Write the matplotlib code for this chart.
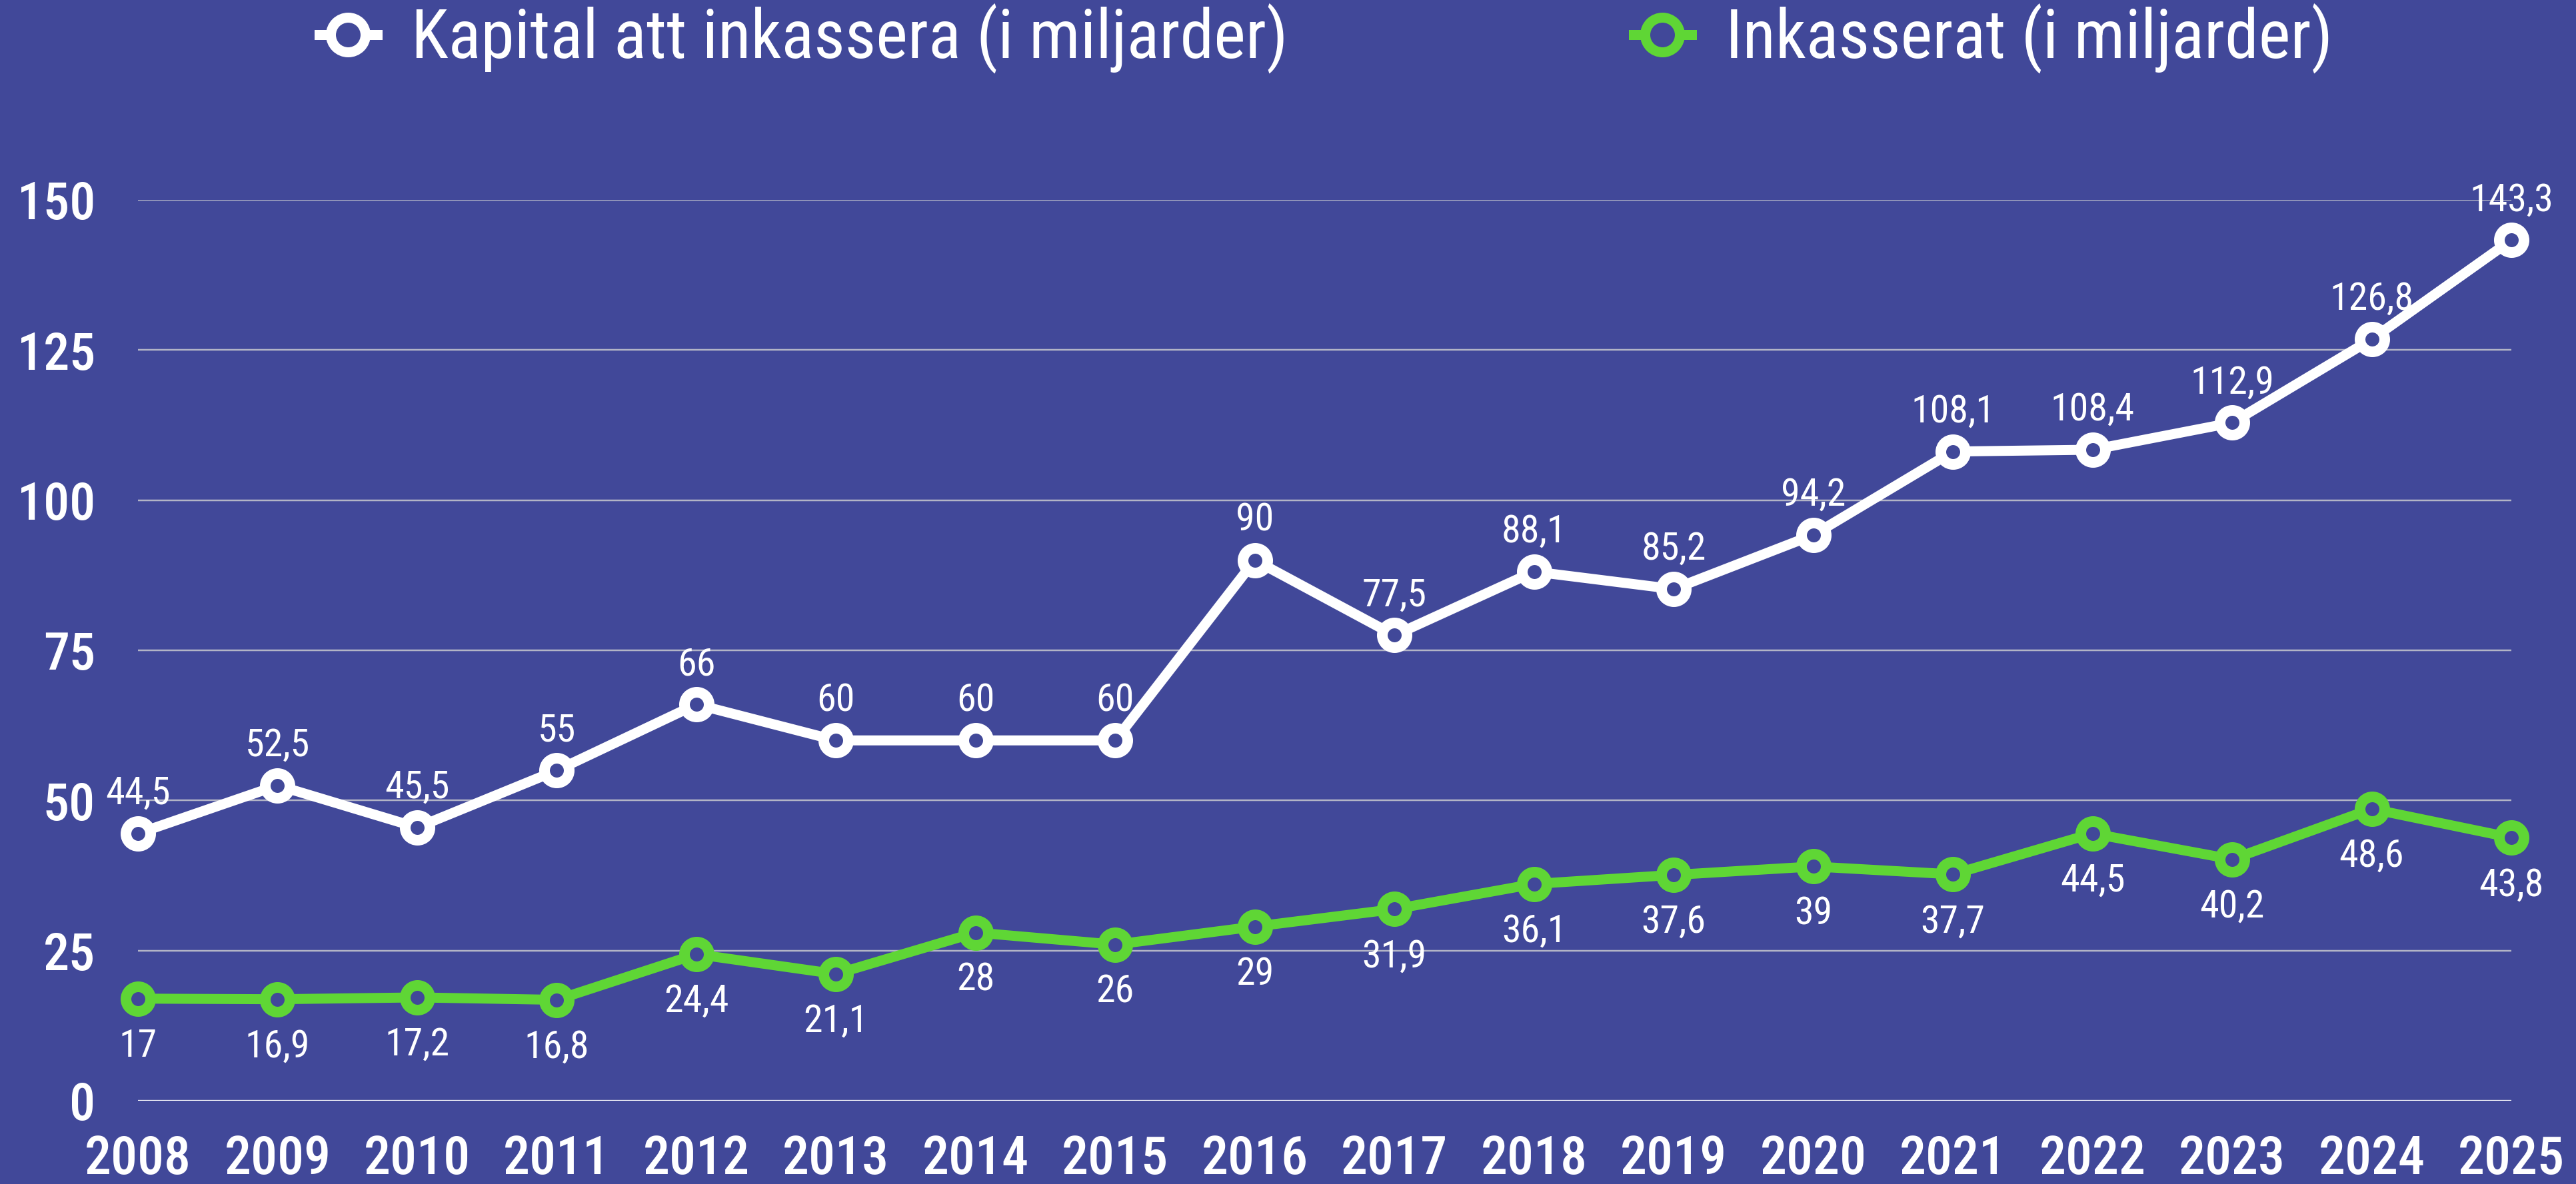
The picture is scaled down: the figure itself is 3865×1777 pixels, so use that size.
import os
import matplotlib
matplotlib.use("Agg")
import matplotlib.pyplot as plt
from matplotlib.lines import Line2D
from matplotlib import font_manager as fm

years = ["2008", "2009", "2010", "2011", "2012", "2013", "2014", "2015", "2016",
         "2017", "2018", "2019", "2020", "2021", "2022", "2023", "2024", "2025"]
kapital = [44.5, 52.5, 45.5, 55, 66, 60, 60, 60, 90, 77.5, 88.1, 85.2, 94.2,
           108.1, 108.4, 112.9, 126.8, 143.3]
inkasserat = [17, 16.9, 17.2, 16.8, 24.4, 21.1, 28, 26, 29, 31.9, 36.1, 37.6, 39,
              37.7, 44.5, 40.2, 48.6, 43.8]
yticks = [0, 25, 50, 75, 100, 125, 150]
series_names = ["Kapital att inkassera (i miljarder)", "Inkasserat (i miljarder)"]

# ---- find a condensed / narrow font if one is installed ----
def find_condensed():
    files = [f.fname for f in fm.fontManager.ttflist]
    bad = ('italic', 'oblique', 'light', 'thin', 'black', 'semibold',
           'extrabold', 'heavy', 'extralight')
    pref = ['liberationsansnarrow', 'robotocondensed', 'notosans-condensed',
            'notosanscondensed', 'opensans_condensed', 'opensans-condensed',
            'opensanscondensed', 'dejavusanscondensed', 'notosans-semicondensed',
            'condensed', 'narrow']
    reg, bold, med = {}, {}, {}
    for p in files:
        b = os.path.basename(p).lower().replace(' ', '')
        if not ('condensed' in b or 'narrow' in b):
            continue
        if 'extracondensed' in b or 'ultracondensed' in b or 'mono' in b or 'serif' in b:
            continue
        if any(k in b for k in bad):
            continue
        for key in pref:
            if key in b:
                if 'bold' in b:
                    bold.setdefault(key, p)
                elif 'medium' in b:
                    med.setdefault(key, p)
                else:
                    reg.setdefault(key, p)
                break
    for key in pref:
        if key in reg:
            r = reg[key]
            bo = bold.get(key, r)
            return r, med.get(key, bo), bo
    return None, None, None

reg_path, med_path, bold_path = find_condensed()
if reg_path:
    FP_REG = fm.FontProperties(fname=reg_path)
    FP_MED = fm.FontProperties(fname=med_path)
    plt.rcParams['font.family'] = [FP_REG.get_name(), 'DejaVu Sans']
else:
    FP_REG = fm.FontProperties(family=['Liberation Sans', 'DejaVu Sans'])
    FP_MED = fm.FontProperties(family=['Liberation Sans', 'DejaVu Sans'], weight='bold')
    plt.rcParams['font.family'] = ['Liberation Sans', 'DejaVu Sans']

BG = '#414899'
WHITE = '#ffffff'
GREEN = '#5fd635'
GRID = '#b2b4c6'

W, H = 3865, 1777
DPI = 100
fig = plt.figure(figsize=(W / DPI, H / DPI), dpi=DPI, facecolor=BG)

px = 72.0 / DPI  # points per pixel

def fp(base, size_px):
    f = base.copy()
    f.set_size(size_px * px)
    return f

left, right, bottom, top = 207, 3768, 1652, 300
ax = fig.add_axes([left / W, (H - bottom) / H, (right - left) / W, (bottom - top) / H])
ax.set_facecolor(BG)

x = list(range(len(years)))

def fmt(v):
    return ('%g' % v).replace('.', ',')

for vals, col, above in ((kapital, WHITE, True), (inkasserat, GREEN, False)):
    ax.plot(x, vals, color=col, lw=15 * px, marker='o', ms=37 * px,
            mew=16 * px, mec=col, mfc=BG, clip_on=False, zorder=5,
            solid_joinstyle='round', solid_capstyle='round')
    for xi, v in zip(x, vals):
        if above:
            ax.annotate(fmt(v), (xi, v), xytext=(0, 44 * px), textcoords='offset points',
                        ha='center', va='baseline', color=WHITE,
                        fontproperties=fp(FP_REG, 58), zorder=6, annotation_clip=False)
        else:
            ax.annotate(fmt(v), (xi, v), xytext=(0, -44 * px), textcoords='offset points',
                        ha='center', va='top', color=WHITE,
                        fontproperties=fp(FP_REG, 58), zorder=6, annotation_clip=False)

ax.set_xlim(0, len(years) - 1)
ax.set_ylim(0, 150)
ax.set_yticks(yticks)
ax.set_xticks(x)

ax.grid(axis='y', color=GRID, lw=2.5 * px, zorder=0)
ax.grid(axis='x', visible=False)
ax.set_axisbelow(True)
ax.axhline(0, color=WHITE, lw=3 * px, zorder=1)

for s in ax.spines.values():
    s.set_visible(False)

ax.set_yticklabels([str(t) for t in yticks], fontproperties=fp(FP_MED, 78), color=WHITE)
ax.set_xticklabels(years, fontproperties=fp(FP_MED, 80), color=WHITE)
ax.tick_params(axis='y', length=0, pad=64 * px)
ax.tick_params(axis='x', length=0, pad=50 * px)

# Legend (two entries placed at the top)
handles = [
    Line2D([], [], color=WHITE, lw=15 * px, marker='o', ms=52 * px, mew=15 * px,
           mec=WHITE, mfc=BG),
    Line2D([], [], color=GREEN, lw=15 * px, marker='o', ms=52 * px, mew=15 * px,
           mec=GREEN, mfc=BG),
]
anchors = [(479 / W, 1 - 58 / H), (2451 / W, 1 - 58 / H)]
for h, name, anc in zip(handles, series_names, anchors):
    fig.legend([h], [name], loc='center left', bbox_to_anchor=anc,
               bbox_transform=fig.transFigure, frameon=False, borderpad=0,
               borderaxespad=0, handlelength=0.85, handletextpad=0.5,
               prop=fp(FP_REG, 102), labelcolor=WHITE)

fig.savefig('out.png', dpi=DPI, facecolor=BG)
